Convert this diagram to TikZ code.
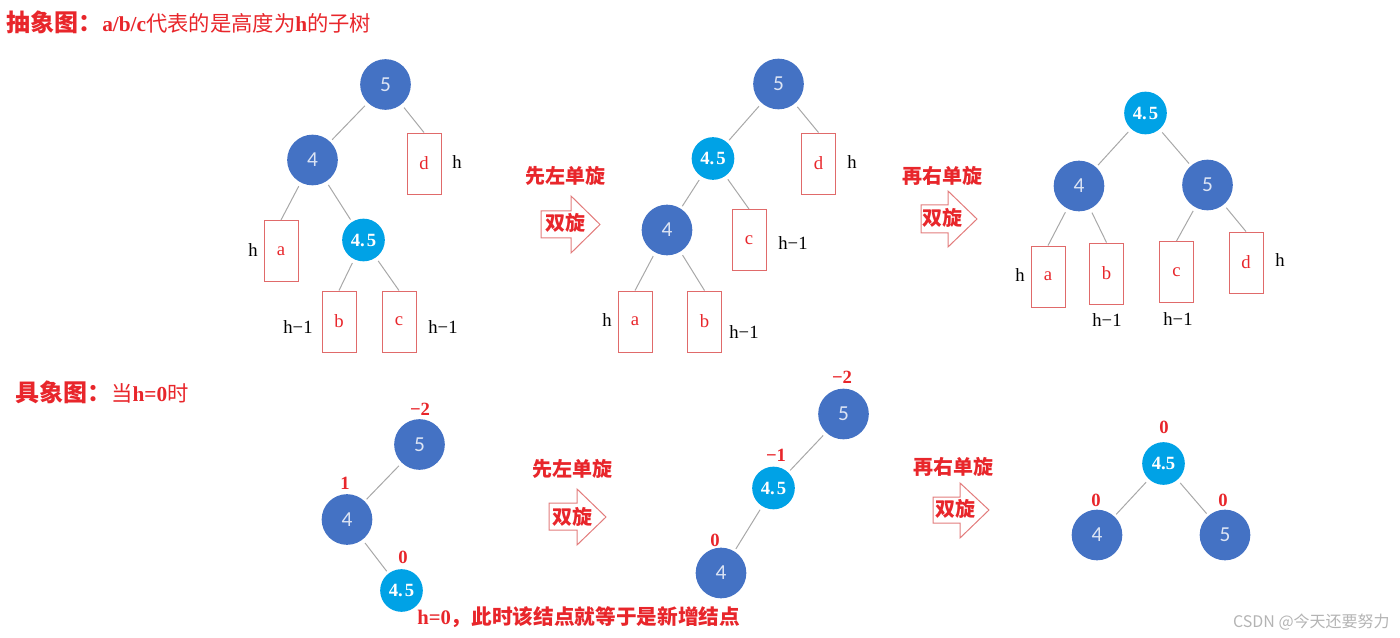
\documentclass[tikz,border=0pt]{standalone}
\usepackage{fontspec}
\setmainfont{Liberation Serif}
\setsansfont{Carlito}
\newfontfamily\cjk{Noto Sans CJK SC}

\definecolor{nblue}{HTML}{4472C4}
\definecolor{ntext}{HTML}{DCE4F4}
\definecolor{lblue}{HTML}{00A2E6}
\definecolor{tred}{HTML}{E8262B}
\definecolor{bred}{HTML}{E06A6A}
\definecolor{ared}{HTML}{E27C7C}
\definecolor{egray}{HTML}{A8A8A8}
\definecolor{wgray}{HTML}{B4B4B4}

\newcommand{\fourhalf}{4.\hspace{1.5pt}5}

\tikzset{
 dnode/.style={circle, fill=nblue, inner sep=0pt, minimum size=38pt, text=ntext, font=\sffamily\fontsize{16}{16}\selectfont},
 lnode/.style={circle, fill=lblue, inner sep=0pt, minimum size=32pt, text=white, font=\bfseries\fontsize{14}{14}\selectfont},
 subtree/.style={rectangle, draw=bred, line width=0.7pt, minimum width=25.5pt, minimum height=45.75pt, inner sep=0pt, text=tred, font=\fontsize{14}{14}\selectfont},
 hlabel/.style={text=black, inner sep=0pt, font=\fontsize{14}{14}\selectfont},
 bal/.style={text=tred, inner sep=0pt, font=\bfseries\fontsize{14}{14}\selectfont},
 edge/.style={draw=egray, line width=0.75pt, shorten <=3pt},
 cedge/.style={edge, shorten >=2pt},
 rot/.style={text=tred, inner sep=0pt, font=\cjk\bfseries\fontsize{15}{15}\selectfont},
 rarrow/.style={draw=ared, line width=0.75pt, line join=miter},
 ttl/.style={text=tred, inner sep=0pt, anchor=west},
}

\begin{document}
\begin{tikzpicture}[x=0.75pt,y=-0.75pt]
\useasboundingbox (0,0) rectangle (1400,638);

% ---------- titles ----------
\node[ttl] (t1) at (6,22) {{\cjk\bfseries\fontsize{18}{18}\selectfont 抽象图：}{\bfseries\fontsize{16}{16}\selectfont a/b/c{\cjk\mdseries 代表的是高度为}h{\cjk\mdseries 的子树}}};
\node[ttl] (t2) at (15,392) {{\cjk\bfseries\fontsize{18}{18}\selectfont 具象图：}{\bfseries\fontsize{16}{16}\selectfont{\cjk\mdseries 当}h=0{\cjk\mdseries 时}}};

% ---------- abstract tree 1 ----------
\node[dnode] (a5) at (385.5,84.5) {5};
\node[dnode] (a4) at (312.5,160) {4};
\node[lnode] (a45) at (363.5,240) {\fourhalf};
\node[subtree] (aA) at (281,251) {a};
\node[subtree] (aB) at (339,321.5) {b};
\node[subtree] (aC) at (399,321.5) {c};
\node[subtree] (aD) at (424,163.5) {d};
\draw[cedge] (a5) -- (a4);
\draw[edge] (a5) -- (aD.north);
\draw[edge] (a4) -- (aA.north);
\draw[cedge] (a4) -- (a45);
\draw[edge] (a45) -- (aB.north);
\draw[edge] (a45) -- (aC.north);
\node[hlabel] (ahD) at (457,162) {h};
\node[hlabel] (ahA) at (253,250) {h};
\node[hlabel] (ahB) at (298,327) {h−1};
\node[hlabel] (ahC) at (443,327) {h−1};

% arrow 1
\draw[rarrow] (541,211) -- (571,211) -- (571,196) -- (600,224.5) -- (571,253) -- (571,238) -- (541,238) -- cycle;
\node[rot] (r1) at (565,176) {先左单旋};
\node[rot] (r1b) at (565,223) {双旋};

% ---------- abstract tree 2 ----------
\node[dnode] (b5) at (778.5,84) {5};
\node[lnode] (b45) at (713,158.5) {\fourhalf};
\node[dnode] (b4) at (667,230) {4};
\node[subtree] (bD) at (818.5,163.5) {d};
\node[subtree] (bC) at (749,240) {c};
\node[subtree] (bA) at (635,321.5) {a};
\node[subtree] (bB) at (704.5,321.5) {b};
\draw[cedge] (b5) -- (b45);
\draw[edge] (b5) -- (bD.north);
\draw[cedge] (b45) -- (b4);
\draw[edge] (b45) -- (bC.north);
\draw[edge] (b4) -- (bA.north);
\draw[edge] (b4) -- (bB.north);
\node[hlabel] (bhD) at (852,162) {h};
\node[hlabel] (bhC) at (793,243) {h−1};
\node[hlabel] (bhA) at (607,320) {h};
\node[hlabel] (bhB) at (744,332) {h−1};

% arrow 2
\draw[rarrow] (921,205) -- (948,205) -- (948,191) -- (977,219) -- (948,247) -- (948,233) -- (921,233) -- cycle;
\node[rot] (r2) at (942,176) {再右单旋};
\node[rot] (r2b) at (942,218) {双旋};

% ---------- abstract tree 3 ----------
\node[lnode] (c45) at (1145.5,113) {\fourhalf};
\node[dnode] (c4) at (1079,186) {4};
\node[dnode] (c5) at (1207.5,185) {5};
\node[subtree] (cA) at (1048,276.5) {a};
\node[subtree] (cB) at (1106.5,273.5) {b};
\node[subtree] (cC) at (1176.5,272) {c};
\node[subtree] (cD) at (1246,262.5) {d};
\draw[cedge] (c45) -- (c4);
\draw[cedge] (c45) -- (c5);
\draw[edge] (c4) -- (cA.north);
\draw[edge] (c4) -- (cB.north);
\draw[edge] (c5) -- (cC.north);
\draw[edge] (c5) -- (cD.north);
\node[hlabel] (chA) at (1020,275) {h};
\node[hlabel] (chB) at (1107,320) {h−1};
\node[hlabel] (chC) at (1178,319) {h−1};
\node[hlabel] (chD) at (1280,260) {h};

% ---------- concrete tree 1 ----------
\node[dnode] (d5) at (419.5,444.5) {5};
\node[dnode] (d4) at (347,519.5) {4};
\node[lnode] (d45) at (401.5,590.5) {\fourhalf};
\draw[cedge] (d5) -- (d4);
\draw[cedge] (d4) -- (d45);
\node[bal] (db5) at (420,409) {−2};
\node[bal] (db4) at (345,483) {1};
\node[bal] (db45) at (403,557) {0};
\node[text=tred, inner sep=0pt, anchor=west] (note) at (417,617) {{\bfseries\fontsize{15.5}{15.5}\selectfont h=0{\cjk ，此时该结点就等于是新增结点}}};

% arrow 3
\draw[rarrow] (549,503) -- (577,503) -- (577,489) -- (606,517) -- (577,545) -- (577,530) -- (549,530) -- cycle;
\node[rot] (r3) at (572,469) {先左单旋};
\node[rot] (r3b) at (572,517) {双旋};

% ---------- concrete tree 2 ----------
\node[dnode] (e5) at (843.5,414) {5};
\node[lnode] (e45) at (773.5,488) {\fourhalf};
\node[dnode] (e4) at (721,573) {4};
\draw[cedge] (e5) -- (e45);
\draw[cedge] (e45) -- (e4);
\node[bal] (eb5) at (842,377) {−2};
\node[bal] (eb45) at (776,455) {−1};
\node[bal] (eb4) at (715,540) {0};

% arrow 4
\draw[rarrow] (933,497) -- (960,497) -- (960,483) -- (989,510) -- (960,538) -- (960,523) -- (933,523) -- cycle;
\node[rot] (r4) at (953,467) {再右单旋};
\node[rot] (r4b) at (955,509) {双旋};

% ---------- concrete tree 3 ----------
\node[lnode] (f45) at (1163.5,463.5) {4.5};
\node[dnode] (f4) at (1097,535) {4};
\node[dnode] (f5) at (1225,535) {5};
\draw[cedge] (f45) -- (f4);
\draw[cedge] (f45) -- (f5);
\node[bal] (fb45) at (1164,427) {0};
\node[bal] (fb4) at (1096,500) {0};
\node[bal] (fb5) at (1223,500) {0};

% watermark
\node[text=wgray, inner sep=0pt, anchor=east, font=\cjk\fontsize{12}{12}\selectfont] (wm) at (1390,622) {CSDN @今天还要努力};
\end{tikzpicture}
\end{document}
